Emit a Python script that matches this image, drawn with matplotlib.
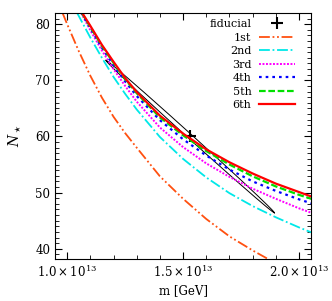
import numpy as np
import matplotlib
matplotlib.use("Agg")
import matplotlib.pyplot as plt
from matplotlib.ticker import MultipleLocator, FixedLocator, FixedFormatter

plt.rcParams['font.family'] = 'DejaVu Serif'
plt.rcParams['mathtext.fontset'] = 'dejavuserif'
plt.rcParams['font.size'] = 8

# data (m in units of 1e13 GeV)
m_1st = [0.98, 1.00, 1.05, 1.10, 1.15, 1.20, 1.25, 1.30, 1.40, 1.50, 1.60, 1.70, 1.80, 1.90]
N_1st = [82.0, 80.0, 75.2, 70.8, 66.9, 63.5, 60.6, 58.0, 52.9, 48.9, 45.3, 42.2, 39.7, 37.4]

m_2nd = [1.043, 1.10, 1.15, 1.20, 1.25, 1.30, 1.40, 1.50, 1.60, 1.70, 1.80, 1.90, 2.00, 2.06]
N_2nd = [82.0, 77.6, 74.0, 70.6, 67.6, 64.8, 59.9, 56.0, 52.7, 49.9, 47.6, 45.6, 43.8, 42.8]

m_3rd = [1.06, 1.10, 1.15, 1.20, 1.25, 1.30, 1.40, 1.50, 1.60, 1.70, 1.80, 1.90, 2.00, 2.06]
N_3rd = [82.0, 78.9, 75.3, 72.0, 69.0, 66.2, 61.6, 58.1, 55.2, 52.8, 50.7, 48.9, 47.2, 46.3]

m_4th = [1.062, 1.10, 1.15, 1.20, 1.25, 1.30, 1.40, 1.50, 1.60, 1.70, 1.80, 1.90, 2.00, 2.06]
N_4th = [82.0, 79.3, 75.8, 72.7, 69.8, 67.2, 62.9, 59.5, 56.6, 54.1, 52.0, 50.3, 48.8, 48.0]

m_5th = [1.063, 1.10, 1.15, 1.20, 1.25, 1.30, 1.40, 1.50, 1.60, 1.70, 1.80, 1.90, 2.00, 2.06]
N_5th = [82.0, 79.5, 76.1, 73.1, 70.2, 67.7, 63.4, 60.2, 57.4, 55.0, 52.9, 51.1, 49.6, 48.8]

m_6th = [1.065, 1.10, 1.15, 1.20, 1.25, 1.30, 1.40, 1.50, 1.60, 1.70, 1.80, 1.90, 2.00, 2.06]
N_6th = [82.0, 79.7, 76.3, 73.3, 70.4, 67.9, 63.7, 60.5, 57.7, 55.4, 53.4, 51.6, 50.1, 49.2]

# fiducial point and its contour (half axes of the ellipse)
fid_m, fid_N = 1.53, 60.0
ell_major = (0.364, -13.6)
ell_minor = (0.0065, 0.30)

labels = ["1st", "2nd", "3rd", "4th", "5th", "6th"]
colors = ["#ff5010", "#00e8e8", "#ff00ff", "#0000ff", "#00e000", "#ff0000"]
styles = [(0, (6, 1.5, 1, 1.5, 1, 1.5)), (0, (6, 1.5, 1, 1.5)), (0, (1, 0.8)),
          (0, (1.2, 1.8)), (0, (3, 1.2)), "-"]
widths = [1.3, 1.3, 1.4, 1.6, 1.6, 1.6]

fig = plt.figure(figsize=(3.32, 3.01), dpi=100)
ax = fig.add_axes([0.166, 0.140, 0.771, 0.817])

t = np.linspace(0, 2 * np.pi, 200)
ex = fid_m + ell_major[0] * np.cos(t) + ell_minor[0] * np.sin(t)
ey = fid_N + ell_major[1] * np.cos(t) + ell_minor[1] * np.sin(t)
ax.plot(ex * 1e13, ey, color="black", lw=0.7)

ax.plot(fid_m * 1e13, fid_N, "+", color="black", ms=9, mew=1.5, label="fiducial")

ms = [m_1st, m_2nd, m_3rd, m_4th, m_5th, m_6th]
Ns = [N_1st, N_2nd, N_3rd, N_4th, N_5th, N_6th]
for m, N, lab, c, ls, lw in zip(ms, Ns, labels, colors, styles, widths):
    ax.plot(np.array(m) * 1e13, N, color=c, ls=ls, lw=lw, label=lab)

ax.set_xlim(0.948e13, 2.052e13)
ax.set_ylim(38.2, 82)

ax.xaxis.set_major_locator(FixedLocator([1.0e13, 1.5e13, 2.0e13]))
ax.xaxis.set_major_formatter(FixedFormatter([r"$1.0\times10^{13}$", r"$1.5\times10^{13}$", r"$2.0\times10^{13}$"]))
ax.xaxis.set_minor_locator(MultipleLocator(0.1e13))
ax.yaxis.set_major_locator(MultipleLocator(10))
ax.yaxis.set_minor_locator(MultipleLocator(1))
ax.tick_params(which="both", direction="in", top=True, right=True)
ax.tick_params(which="major", length=5, labelsize=8.5)
ax.tick_params(which="minor", length=3)

ax.set_xlabel("m [GeV]", labelpad=3, fontsize=8.5)
ax.set_ylabel(r"$N_\star$", labelpad=9, fontsize=10)

ax.legend(loc="upper right", bbox_to_anchor=(0.96, 1.0), frameon=False, markerfirst=False,
          handlelength=3.2, handletextpad=0.7, labelspacing=0.32, borderaxespad=0.15, fontsize=8)

fig.savefig("out.png", dpi=100)
